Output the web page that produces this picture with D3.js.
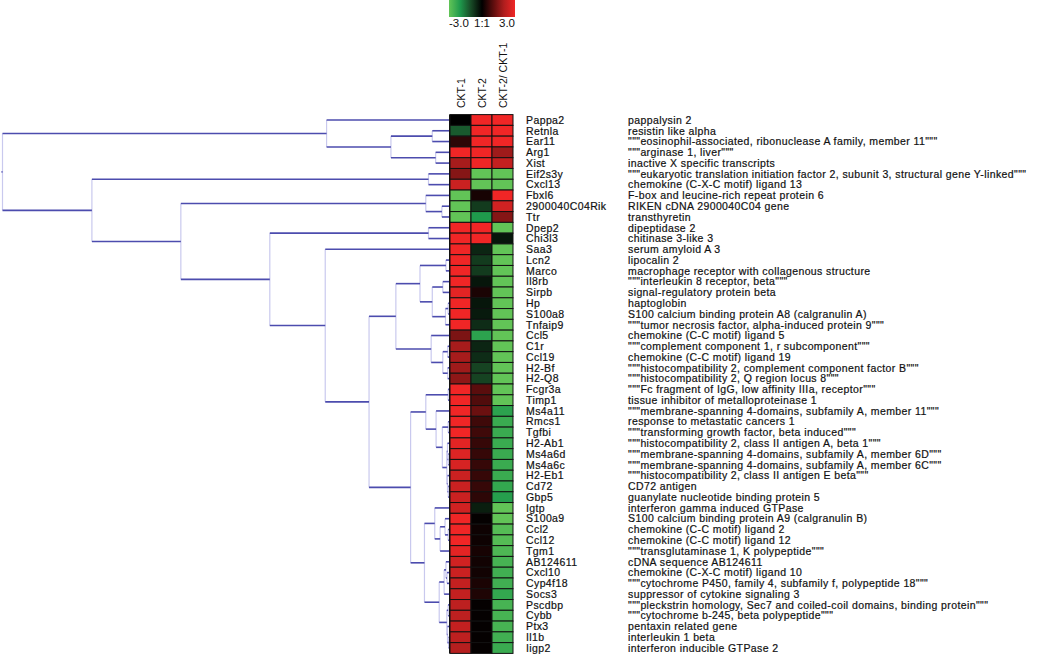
<!DOCTYPE html>
<html>
<head>
<meta charset="utf-8">
<script src="https://cdn.jsdelivr.net/npm/d3@7"></script>
<style>
  html, body { margin: 0; padding: 0; background: #fff; }
  svg { display: block; font-family: "Liberation Sans", Arial, sans-serif; }
</style>
</head>
<body>
<svg id="chart" width="1050" height="670"></svg>
<script>
// ---------- DATA ----------
const genes = ["Pappa2","Retnla","Ear11","Arg1","Xist","Eif2s3y","Cxcl13","Fbxl6","2900040C04Rik","Ttr",
  "Dpep2","Chi3l3","Saa3","Lcn2","Marco","Il8rb","Sirpb","Hp","S100a8","Tnfaip9",
  "Ccl5","C1r","Ccl19","H2-Bf","H2-Q8","Fcgr3a","Timp1","Ms4a11","Rmcs1","Tgfbi",
  "H2-Ab1","Ms4a6d","Ms4a6c","H2-Eb1","Cd72","Gbp5","Igtp","S100a9","Ccl2","Ccl12",
  "Tgm1","AB124611","Cxcl10","Cyp4f18","Socs3","Pscdbp","Cybb","Ptx3","Il1b","Iigp2"];

const descriptions = ["pappalysin 2","resistin like alpha",
  "\"\"\"eosinophil-associated, ribonuclease A family, member 11\"\"\"",
  "\"\"\"arginase 1, liver\"\"\"","inactive X specific transcripts",
  "\"\"\"eukaryotic translation initiation factor 2, subunit 3, structural gene Y-linked\"\"\"",
  "chemokine (C-X-C motif) ligand 13","F-box and leucine-rich repeat protein 6",
  "RIKEN cDNA 2900040C04 gene","transthyretin","dipeptidase 2","chitinase 3-like 3",
  "serum amyloid A 3","lipocalin 2","macrophage receptor with collagenous structure",
  "\"\"\"interleukin 8 receptor, beta\"\"\"","signal-regulatory protein beta","haptoglobin",
  "S100 calcium binding protein A8 (calgranulin A)",
  "\"\"\"tumor necrosis factor, alpha-induced protein 9\"\"\"",
  "chemokine (C-C motif) ligand 5","\"\"\"complement component 1, r subcomponent\"\"\"",
  "chemokine (C-C motif) ligand 19",
  "\"\"\"histocompatibility 2, complement component factor B\"\"\"",
  "\"\"\"histocompatibility 2, Q region locus 8\"\"\"",
  "\"\"\"Fc fragment of IgG, low affinity IIIa, receptor\"\"\"",
  "tissue inhibitor of metalloproteinase 1",
  "\"\"\"membrane-spanning 4-domains, subfamily A, member 11\"\"\"",
  "response to metastatic cancers 1","\"\"\"transforming growth factor, beta induced\"\"\"",
  "\"\"\"histocompatibility 2, class II antigen A, beta 1\"\"\"",
  "\"\"\"membrane-spanning 4-domains, subfamily A, member 6D\"\"\"",
  "\"\"\"membrane-spanning 4-domains, subfamily A, member 6C\"\"\"",
  "\"\"\"histocompatibility 2, class II antigen E beta\"\"\"",
  "CD72 antigen","guanylate nucleotide binding protein 5","interferon gamma induced GTPase",
  "S100 calcium binding protein A9 (calgranulin B)","chemokine (C-C motif) ligand 2",
  "chemokine (C-C motif) ligand 12","\"\"\"transglutaminase 1, K polypeptide\"\"\"",
  "cDNA sequence AB124611","chemokine (C-X-C motif) ligand 10",
  "\"\"\"cytochrome P450, family 4, subfamily f, polypeptide 18\"\"\"",
  "suppressor of cytokine signaling 3",
  "\"\"\"pleckstrin homology, Sec7 and coiled-coil domains, binding protein\"\"\"",
  "\"\"\"cytochrome b-245, beta polypeptide\"\"\"","pentaxin related gene",
  "interleukin 1 beta","interferon inducible GTPase 2"];

const columns = ["CKT-1", "CKT-2", "CKT-2/ CKT-1"];

// log ratio values per column (estimated)
const ckt1 = [0,-1.2,0.5,3,1.9,1.5,2.4,-3,-3,-3,
  3,3,3,3,3,3,2.8,3,3,3,
  1.4,1.9,1.9,1.8,1.6,3,3,3,3,3,
  2.8,2.7,2.6,2.4,2.4,2.4,2.5,3,3,3,
  2.8,2.5,2.4,2.3,2.3,2.2,2.2,2.3,2.2,2.1];
const ckt2 = [3,3,3,3,3,-3,-3,0.25,-0.8,-2,
  3,3,-0.5,-0.8,-0.8,-0.3,0.3,-0.3,-0.35,-0.6,
  -2.2,-0.5,-0.6,-0.9,-0.9,1.0,0.9,1.2,0.7,0.7,
  0.6,0.6,0.6,0.6,0.6,0.5,-0.4,0.05,0.15,0.15,
  0.25,0.2,0.2,0.3,0.35,0.05,0.05,0.05,0.05,0.05];
const ratio = [3,3,3,1.8,2.3,-3,-3,3,2.5,1.5,
  -3,-0.3,-3,-3,-3,-3,-3,-3,-3,-3,
  -3,-3,-3,-3,-3,-3,-3,-2.2,-2.4,-2.4,
  -2.4,-2.4,-2.4,-2.4,-2.3,-2.1,-3,-3,-2.8,-2.8,
  -2.7,-2.6,-2.5,-2.5,-2.3,-2.6,-2.6,-2.6,-2.5,-2.4];

const legendTicks = ["-3.0", "1:1", "3.0"];
const legendValues = [-3, 0, 3];

// hierarchical clustering merges: [childA, childB, height]; leaves 0..49, merge ids 50..
const merges = [
  [17,18,0.003],[38,39,0.003],[25,26,0.003],[28,29,0.003],[45,46,0.003],
  [48,49,0.002],[31,32,0.0027],[34,35,0.0027],[21,22,0.004],[23,24,0.004],
  [13,14,0.008],[42,43,0.0056],[30,56,0.0045],[33,57,0.0045],[62,63,0.006],
  [47,55,0.0045],[54,65,0.006],[50,19,0.009],[15,16,0.015],[68,67,0.0385],
  [60,69,0.066],[58,59,0.015],[20,71,0.041],[70,72,0.120],[53,64,0.016],
  [27,74,0.030],[52,75,0.053],[37,51,0.010],[77,40,0.021],[36,78,0.033],
  [41,61,0.008],[80,44,0.012],[81,66,0.023],[79,82,0.056],[76,83,0.087],
  [73,84,0.180],[12,85,0.278],[10,11,0.047],[87,86,0.402],[8,9,0.017],
  [7,89,0.053],[90,88,0.601],[5,6,0.047],[92,91,0.800],[1,2,0.0385],
  [3,4,0.031],[94,95,0.131],[0,96,0.275],[97,93,1.0]
];

// ---------- LAYOUT ----------
const svg = d3.select("#chart");
const heatTop = 114.6, heatBottom = 653.4;
const heatLeft = 450, heatRight = 513;

const y = d3.scaleBand().domain(genes).range([heatTop, heatBottom]).padding(0);
const x = d3.scaleBand().domain(columns).range([heatLeft, heatRight]).padding(0);
const hx = d3.scaleLinear().domain([0, 1]).range([449.5, 2.5]);

const color = d3.scaleLinear()
  .domain([-3, -2, -1, 0, 1, 2, 3])
  .range(["#62c457", "#1f9a4c", "#184a26", "#000000", "#5a0d0d", "#b01e1e", "#f02626"])
  .clamp(true);

// ---------- LEGEND ----------
const defs = svg.append("defs");
const grad = defs.append("linearGradient").attr("id", "lg").attr("x1", "0%").attr("x2", "100%");
d3.range(-3, 3.01, 0.25).forEach(v => {
  grad.append("stop").attr("offset", ((v + 3) / 6 * 100) + "%").attr("stop-color", color(v));
});
const lx = d3.scaleLinear().domain([-3, 3]).range([449, 515]);
svg.append("rect").attr("x", lx(-3)).attr("y", 0).attr("width", lx(3) - lx(-3)).attr("height", 17)
  .attr("fill", "url(#lg)");
const anchors = ["start", "middle", "end"];
svg.selectAll("text.leg").data(legendTicks).enter().append("text")
  .attr("class", "leg")
  .attr("x", (d, i) => lx(legendValues[i]))
  .attr("y", 27)
  .attr("text-anchor", (d, i) => anchors[i])
  .attr("font-size", 11.5)
  .attr("fill", "#111")
  .text(d => d);

// ---------- COLUMN LABELS ----------
svg.selectAll("text.col").data(columns).enter().append("text")
  .attr("class", "col")
  .attr("transform", d => `translate(${x(d) + x.bandwidth() / 2 + 4},108) rotate(-90)`)
  .attr("font-size", 10.5)
  .attr("fill", "#111")
  .text(d => d);

// ---------- HEATMAP ----------
const series = [ckt1, ckt2, ratio];
const cells = [];
genes.forEach((g, i) => columns.forEach((c, j) => cells.push({ g, c, v: series[j][i] })));
svg.append("g").selectAll("rect").data(cells).enter().append("rect")
  .attr("x", d => x(d.c))
  .attr("y", d => y(d.g))
  .attr("width", x.bandwidth())
  .attr("height", y.bandwidth())
  .attr("fill", d => color(d.v))
  .attr("stroke", "#111")
  .attr("stroke-width", 1);

// ---------- ROW LABELS ----------
const labelFont = 10.5;
const labelSpacing = 0.4;
svg.append("g").selectAll("text").data(genes).enter().append("text")
  .attr("x", 526)
  .attr("y", d => y(d) + y.bandwidth() / 2)
  .attr("dy", "0.36em")
  .attr("font-size", labelFont)
  .attr("letter-spacing", labelSpacing)
  .attr("fill", "#111")
  .attr("stroke", "#111").attr("stroke-width", 0.2)
  .text(d => d);
svg.append("g").selectAll("text").data(descriptions).enter().append("text")
  .attr("x", 628)
  .attr("y", (d, i) => y(genes[i]) + y.bandwidth() / 2)
  .attr("dy", "0.36em")
  .attr("font-size", labelFont)
  .attr("letter-spacing", labelSpacing)
  .attr("fill", "#111")
  .attr("stroke", "#111").attr("stroke-width", 0.2)
  .text(d => d);

// ---------- DENDROGRAM ----------
const nodes = genes.map((g, i) => ({ id: i, h: 0, y: y(g) + y.bandwidth() / 2 }));
merges.forEach(([a, b, h]) => {
  const A = nodes[a], B = nodes[b];
  nodes.push({ id: nodes.length, h, children: [A, B], y: (A.y + B.y) / 2 });
});
const internal = nodes.filter(n => n.children);
const dg = svg.append("g");
dg.selectAll("line.v").data(internal).enter().append("line")
  .attr("x1", d => hx(d.h)).attr("x2", d => hx(d.h))
  .attr("y1", d => d.children[0].y).attr("y2", d => d.children[1].y)
  .attr("stroke", "#c9c9ee").attr("stroke-width", 1.2);
const horiz = [];
internal.forEach(n => n.children.forEach(c => horiz.push({ p: n, c })));
dg.selectAll("line.h").data(horiz).enter().append("line")
  .attr("x1", d => hx(d.p.h)).attr("x2", d => hx(d.c.h))
  .attr("y1", d => d.c.y).attr("y2", d => d.c.y)
  .attr("stroke", "#4c4cae").attr("stroke-width", 1.6);
const root = nodes[nodes.length - 1];
dg.append("line").attr("x1", hx(root.h) - 1).attr("x2", hx(root.h))
  .attr("y1", root.y).attr("y2", root.y).attr("stroke", "#4c4cae").attr("stroke-width", 1.6);
svg.append("line").attr("x1", 449.5).attr("x2", 449.5).attr("y1", heatTop).attr("y2", heatBottom)
  .attr("stroke", "#111").attr("stroke-width", 1);
</script>
</body>
</html>
